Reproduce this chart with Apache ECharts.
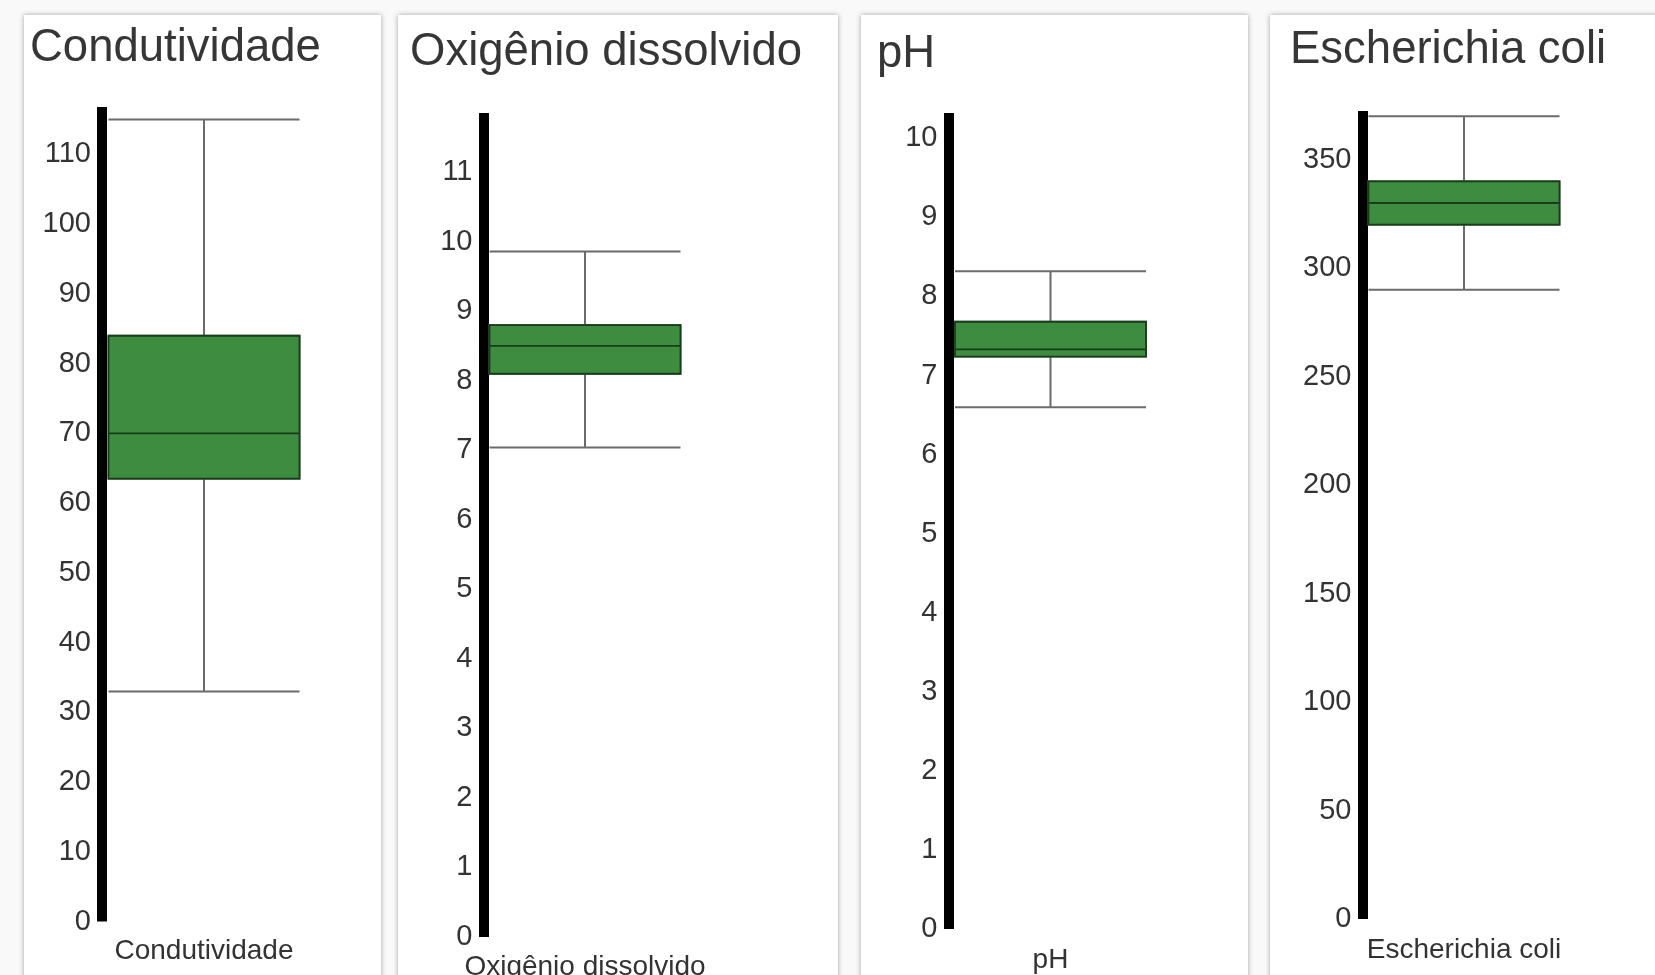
<!DOCTYPE html>
<html>
<head>
<meta charset="utf-8">
<script src="https://cdn.jsdelivr.net/npm/echarts@6/dist/echarts.min.js"></script>
<style>
html,body{margin:0;padding:0;width:1655px;height:975px;overflow:hidden;background:#f9f9f9;}
.card{position:absolute;top:15px;height:1000px;background:#fff;box-shadow:0 0 5px rgba(0,0,0,0.35);}
#chart{position:absolute;left:0;top:0;width:1655px;height:975px;}
</style>
</head>
<body>
<div class="card" style="left:24px;width:357px"></div>
<div class="card" style="left:398px;width:440px"></div>
<div class="card" style="left:861px;width:387px"></div>
<div class="card" style="left:1270px;width:420px"></div>
<div id="chart"></div>
<script>
// ---- data ----
const categories = ['Condutividade', 'Oxigênio dissolvido', 'pH', 'Escherichia coli'];
// [min, Q1, median, Q3, max]
const condutividade = [33, 63.5, 70, 84, 115];
const oxigenio = [7.04, 8.1, 8.5, 8.8, 9.86];
const ph = [6.6, 7.24, 7.33, 7.68, 8.32];
const ecoli = [290, 320, 330, 340, 370];
const boxStats = [condutividade, oxigenio, ph, ecoli];
const axisMax = [116.8, 11.85, 10.32, 372.4];
const axisInterval = [10, 1, 1, 50];

// ---- layout ----
const grids = [
  {left: 102, top: 107, width: 204, height: 814.5, outerBoundsMode: 'none', containLabel: false},
  {left: 483.5, top: 113, width: 203, height: 824, outerBoundsMode: 'none', containLabel: false},
  {left: 948.5, top: 113, width: 204, height: 816, outerBoundsMode: 'none', containLabel: false},
  {left: 1362.5, top: 111, width: 203, height: 808, outerBoundsMode: 'none', containLabel: false}
];
const titlePos = [[30, 25], [410, 29], [877, 31], [1290, 27]];
const labelMargin = [16, 16.5, 17, 17.5];
const FONT = 'Liberation Sans, Arial, sans-serif';

const option = {
  backgroundColor: 'transparent',
  animation: false,
  title: categories.map((c, i) => ({
    text: c, left: titlePos[i][0], top: titlePos[i][1], padding: 0,
    textStyle: {fontFamily: FONT, fontSize: 45.5, fontWeight: 'normal', color: '#363636'}
  })),
  grid: grids,
  xAxis: [],
  yAxis: [],
  series: []
};

categories.forEach((c, i) => {
  option.xAxis.push({
    type: 'category', gridIndex: i, data: [c],
    axisLine: {show: false}, axisTick: {show: false},
    axisLabel: {fontFamily: FONT, fontSize: 28, color: '#333', margin: labelMargin[i]}
  });
  option.xAxis.push({
    type: 'category', gridIndex: i, data: [c], show: false
  });
  option.yAxis.push({
    type: 'value', gridIndex: i, min: 0, max: axisMax[i], interval: axisInterval[i],
    axisLine: {show: true, lineStyle: {color: '#000', width: 10, cap: 'butt'}},
    axisTick: {show: false},
    splitLine: {show: false},
    axisLabel: {fontFamily: FONT, fontSize: 29, color: '#333', margin: 11, showMaxLabel: false}
  });
  const s = boxStats[i];
  // whiskers (gray)
  option.series.push({
    type: 'boxplot', xAxisIndex: 2 * i, yAxisIndex: i,
    boxWidth: [191, 191], z: 2,
    itemStyle: {color: 'transparent', borderColor: '#6b6b6b', borderWidth: 2},
    data: [s]
  });
  // box (green) drawn from the quartiles
  option.series.push({
    type: 'boxplot', xAxisIndex: 2 * i + 1, yAxisIndex: i,
    boxWidth: [191, 191], z: 3,
    itemStyle: {color: '#3d8c40', borderColor: '#173d19', borderWidth: 1.8},
    data: [[s[1], s[1], s[2], s[3], s[3]]]
  });
});

const chart = echarts.init(document.getElementById('chart'), null, {renderer: 'canvas'});
chart.setOption(option);
</script>
</body>
</html>
